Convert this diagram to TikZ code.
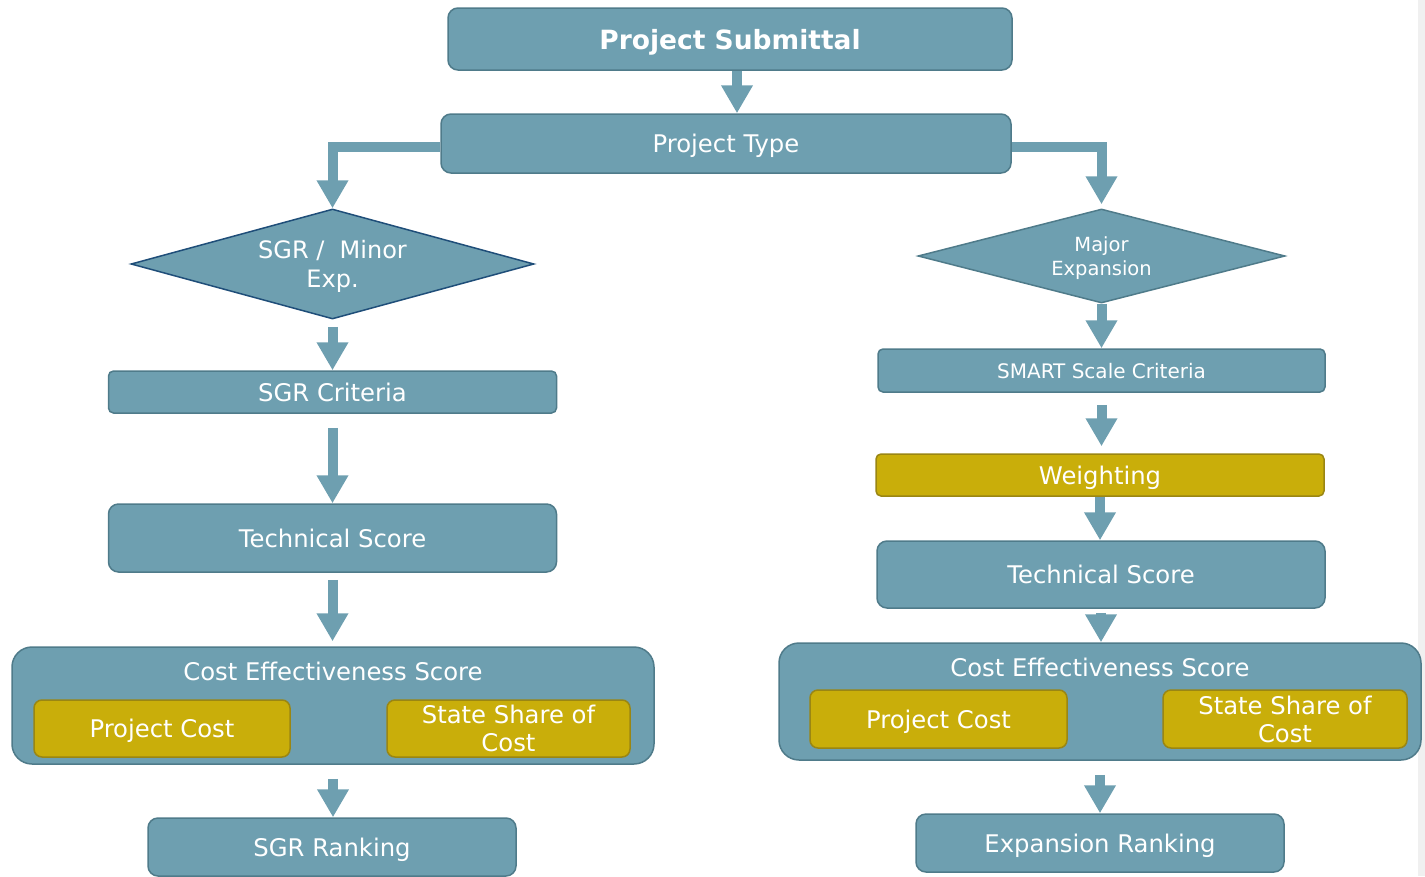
\documentclass[tikz,border=0pt]{standalone}
\usepackage{fontspec}
\setmainfont{DejaVu Sans}
\usetikzlibrary{shapes.geometric,arrows.meta}
\definecolor{steel}{HTML}{6E9FB0}
\definecolor{steeledge}{HTML}{4F7B8A}
\definecolor{gold}{HTML}{C9AE0A}
\definecolor{goldedge}{HTML}{9A8613}
\definecolor{navyedge}{HTML}{1F4E79}
\begin{document}
\begin{tikzpicture}[x=1pt,y=-1pt,
    base/.style={draw=steeledge,line width=1.5pt,fill=steel,rounded corners=10pt,text=white,inner sep=0pt,align=center,font=\fontsize{24.3}{28}\selectfont},
    box/.style={base,text height=18.5pt,text depth=0pt},
    goldbase/.style={base,draw=goldedge,fill=gold,rounded corners=8pt},
    goldbox/.style={goldbase,text height=18.5pt,text depth=0pt},
    choice/.style={diamond,draw=steeledge,line width=1.5pt,fill=steel,text=white,inner sep=0pt,align=center,text depth=0pt},
    flow/.style={steel,line width=10pt,-{Triangle[width=30pt,length=28pt]}},
    elbow/.style={flow,line join=miter}]
  \useasboundingbox (0,0) rectangle (1425,876);
  \fill[gray!12] (1418,0) rectangle (1425,876);
  % top
  \node[box,minimum width=564pt,minimum height=62pt,text height=20pt,font=\bfseries\fontsize{26.5}{30}\selectfont] (sub) at (730,39) {Project Submittal};
  \node[box,minimum width=570pt,minimum height=59pt] (pt) at (726,143.5) {Project Type};
  % left branch
  \node[choice,draw=navyedge,shape aspect=3.66,minimum width=403pt,minimum height=110pt,font=\fontsize{24}{29}\selectfont] (sgr) at (332.5,264) {SGR /\ \ Minor\\Exp.};
  \node[box,rounded corners=5pt,minimum width=448pt,minimum height=42pt] (critL) at (332.5,392) {SGR Criteria};
  \node[box,minimum width=448pt,minimum height=68pt] (techL) at (332.5,538) {Technical Score};
  \node[base,rounded corners=20pt,minimum width=642pt,minimum height=117pt] (costL) at (333,705.5) {};
  \node[text=white,font=\fontsize{24.3}{28}\selectfont] (costLt) at (333,671) {Cost Effectiveness Score};
  \node[goldbox,minimum width=256pt,minimum height=57pt] (pcL) at (162,728.5) {Project Cost};
  \node[goldbase,minimum width=243pt,minimum height=57pt] (ssL) at (508.5,728.5) {State Share of\\Cost};
  \node[box,minimum width=368pt,minimum height=58pt] (rankL) at (332,847) {SGR Ranking};
  % right branch
  \node[choice,shape aspect=3.9,minimum width=367pt,minimum height=94pt,font=\fontsize{19.5}{24}\selectfont] (major) at (1101.5,256) {Major\\Expansion};
  \node[box,rounded corners=5pt,minimum width=447pt,minimum height=43pt,text height=15.2pt,font=\fontsize{20}{22}\selectfont] (smart) at (1101.5,370.5) {SMART Scale Criteria};
  \node[goldbox,rounded corners=5pt,minimum width=448pt,minimum height=42pt] (weight) at (1100,475) {Weighting};
  \node[box,minimum width=448pt,minimum height=67pt] (techR) at (1101,574.5) {Technical Score};
  \node[base,rounded corners=20pt,minimum width=642pt,minimum height=117pt] (costR) at (1100,701.5) {};
  \node[text=white,font=\fontsize{24.3}{28}\selectfont] (costRt) at (1100,667) {Cost Effectiveness Score};
  \node[goldbox,minimum width=257pt,minimum height=58pt] (pcR) at (938.5,719) {Project Cost};
  \node[goldbase,minimum width=244pt,minimum height=58pt] (ssR) at (1285,719) {State Share of\\Cost};
  \node[box,minimum width=368pt,minimum height=58pt] (rankR) at (1100,843) {Expansion Ranking};
  % connectors
  \draw[flow] ([xshift=7pt]sub.south) -- ([xshift=7pt]sub.south |- pt.north);
  \draw[elbow] ([yshift=-3pt]pt.west) -| (sgr.north);
  \draw[elbow] ([yshift=-3pt]pt.east) -| ([yshift=4pt]major.north);
  \draw[flow] ([yshift=-7pt]sgr.south) -- (sgr.south |- critL.north);
  \draw[flow] ([yshift=-14pt]critL.south) -- (critL.south |- techL.north);
  \draw[flow] ([yshift=-7pt]techL.south) -- ([yshift=5pt]techL.south |- costL.north);
  \draw[flow] ([yshift=-14pt]costL.south) -- (costL.south |- rankL.north);
  \draw[flow] (major.south) -- (major.south |- smart.north);
  \draw[flow] ([yshift=-12pt]smart.south) -- ([yshift=7pt]smart.south |- weight.north);
  \draw[flow] (weight.south) -- (weight.south |- techR.north);
  \draw[flow] ([yshift=-4pt]techR.south) -- (techR.south |- costR.north);
  \draw[flow] ([yshift=-14pt]costR.south) -- (costR.south |- rankR.north);
\end{tikzpicture}
\end{document}
